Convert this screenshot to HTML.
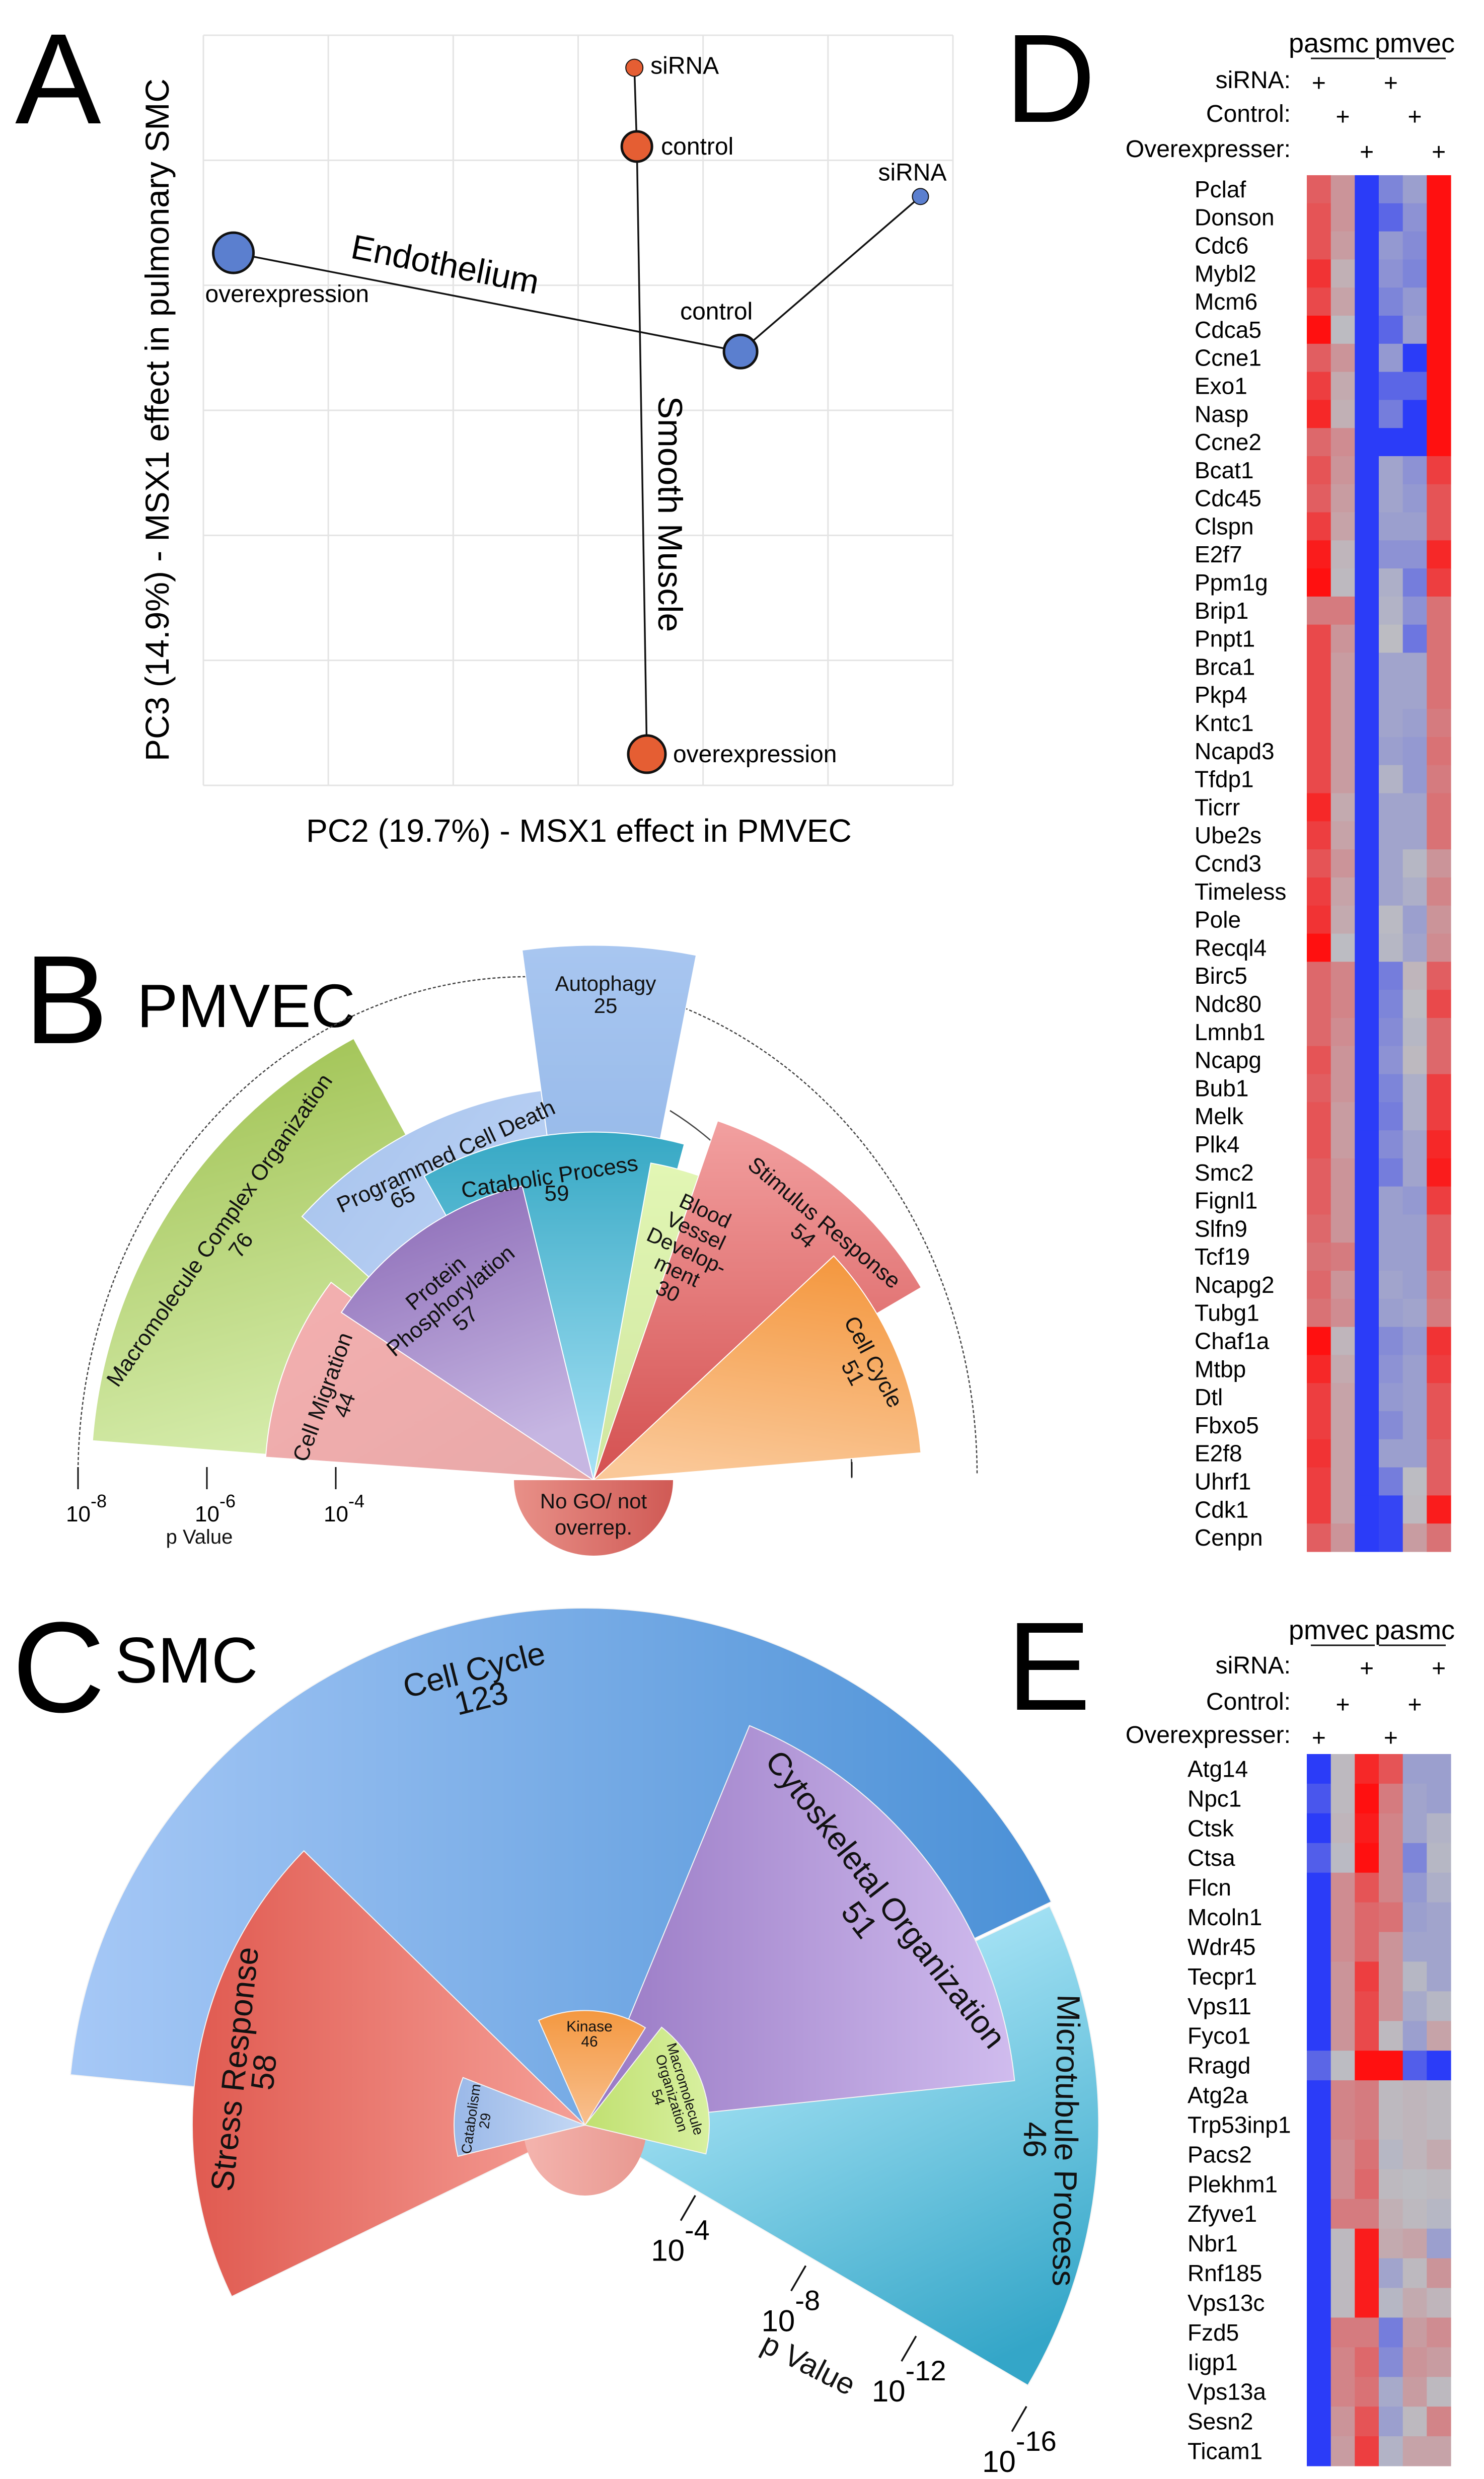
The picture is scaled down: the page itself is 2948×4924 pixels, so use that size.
<!DOCTYPE html>
<html><head><meta charset="utf-8">
<style>
html,body{margin:0;padding:0;background:#fff;}
svg{display:block;font-family:"Liberation Sans",Arial,sans-serif;}
</style></head>
<body>
<svg id="fig" width="2948" height="4924" viewBox="0 0 2948 4924" xmlns="http://www.w3.org/2000/svg">
<defs>
<linearGradient id="gGreen" x1="0" y1="0" x2="0.3" y2="1"><stop offset="0" stop-color="#9cbf4c"/><stop offset="1" stop-color="#d8eeb0"/></linearGradient>
<linearGradient id="gPink" x1="0" y1="0" x2="1" y2="1"><stop offset="0" stop-color="#f4b0b0"/><stop offset="1" stop-color="#e8a8a8"/></linearGradient>
<linearGradient id="gPCD" x1="0" y1="0" x2="1" y2="1"><stop offset="0" stop-color="#a6c2ec"/><stop offset="1" stop-color="#c8dcfa"/></linearGradient>
<linearGradient id="gAuto" x1="0" y1="0" x2="0" y2="1"><stop offset="0" stop-color="#a8c6f0"/><stop offset="1" stop-color="#7ea8e0"/></linearGradient>
<linearGradient id="gCat" x1="0" y1="0" x2="0" y2="1"><stop offset="0" stop-color="#36a8c4"/><stop offset="1" stop-color="#a8e2f6"/></linearGradient>
<linearGradient id="gPurple" x1="0" y1="0" x2="0.3" y2="1"><stop offset="0" stop-color="#8866b4"/><stop offset="1" stop-color="#c6b6e2"/></linearGradient>
<linearGradient id="gBlood" x1="0" y1="0" x2="0" y2="1"><stop offset="0" stop-color="#e2f6b4"/><stop offset="1" stop-color="#cfe6a0"/></linearGradient>
<linearGradient id="gStim" x1="0" y1="0" x2="0" y2="1"><stop offset="0" stop-color="#f2a0a0"/><stop offset="1" stop-color="#d45050"/></linearGradient>
<linearGradient id="gOrange" x1="0.6" y1="0" x2="0.4" y2="1"><stop offset="0" stop-color="#f49840"/><stop offset="1" stop-color="#fac898"/></linearGradient>
<linearGradient id="gNoGO" x1="0" y1="0" x2="1" y2="0"><stop offset="0" stop-color="#e89088"/><stop offset="1" stop-color="#d05a55"/></linearGradient>
<linearGradient id="gCCyc" x1="0" y1="0" x2="1" y2="0"><stop offset="0" stop-color="#a6c8f6"/><stop offset="1" stop-color="#4a90d6"/></linearGradient>
<linearGradient id="gStress" x1="0" y1="0" x2="1" y2="0"><stop offset="0" stop-color="#e05a50"/><stop offset="1" stop-color="#f5a098"/></linearGradient>
<linearGradient id="gCyto" x1="0" y1="0" x2="1" y2="0"><stop offset="0" stop-color="#9878c4"/><stop offset="1" stop-color="#d0bcee"/></linearGradient>
<linearGradient id="gMicro" x1="0.2" y1="0" x2="0.7" y2="1"><stop offset="0.15" stop-color="#b4eafa"/><stop offset="1" stop-color="#34a6c8"/></linearGradient>
<linearGradient id="gKin" x1="0" y1="0" x2="0" y2="1"><stop offset="0" stop-color="#f49840"/><stop offset="1" stop-color="#f8c090"/></linearGradient>
<linearGradient id="gMacro" x1="0" y1="0" x2="1" y2="0"><stop offset="0" stop-color="#c0e070"/><stop offset="1" stop-color="#d8f0a0"/></linearGradient>
<linearGradient id="gCatab" x1="0" y1="0" x2="1" y2="0"><stop offset="0" stop-color="#9ab8e8"/><stop offset="1" stop-color="#c4d8f4"/></linearGradient>
<linearGradient id="gPinkC" x1="0" y1="0" x2="1" y2="0"><stop offset="0" stop-color="#f4b4ae"/><stop offset="1" stop-color="#e89890"/></linearGradient>
</defs>

<text x="30" y="245" font-size="256">A</text>
<text x="48" y="2072" font-size="250">B</text>
<text x="272" y="2040" font-size="122">PMVEC</text>
<text x="24" y="3400" font-size="256">C</text>
<text x="228" y="3342" font-size="128">SMC</text>
<text x="1996" y="242" font-size="250">D</text>
<text x="2000" y="3396" font-size="250">E</text>

<g id="panelA"></g>
<g id="panelB"></g>
<g id="panelC"></g>
<g id="panelD"></g>
<g id="panelE"></g>

<text transform="translate(335,834) rotate(-90)" text-anchor="middle" font-size="66">PC3 (14.9%) - MSX1 effect in pulmonary SMC</text>
<text x="1150" y="1672" text-anchor="middle" font-size="64">PC2 (19.7%) - MSX1 effect in PMVEC</text>
<text transform="translate(880,548) rotate(11)" text-anchor="middle" font-size="68">Endothelium</text>
<text transform="translate(1308,1021) rotate(90)" text-anchor="middle" font-size="68">Smooth Muscle</text>

<g font-size="44" text-anchor="middle" fill="#111">
<text transform="translate(448,2452) rotate(-55)">Macromolecule Complex Organization<tspan x="0" dy="52">76</tspan></text>
<text transform="translate(892,2310) rotate(-25)">Programmed Cell Death</text>
<text transform="translate(806,2392) rotate(-25)">65</text>
<text x="1203" y="1968" font-size="42">Autophagy<tspan x="1203" dy="44">25</tspan></text>
<text transform="translate(1094,2352) rotate(-9)">Catabolic Process</text>
<text x="1106" y="2385">59</text>
<text transform="translate(875,2560) rotate(-40)">Protein<tspan x="0" dy="46">Phosphorylation</tspan><tspan x="0" dy="46">57</tspan></text>
<text transform="translate(1395,2418) rotate(25)" font-size="42">Blood<tspan x="0" dy="44">Vessel</tspan><tspan x="0" dy="44">Develop-</tspan><tspan x="0" dy="44">ment</tspan><tspan x="0" dy="44">30</tspan></text>
<text transform="translate(1628,2440) rotate(40)">Stimulus Response</text>
<text transform="translate(1586,2466) rotate(40)">54</text>
<text transform="translate(1722,2712) rotate(62)">Cell Cycle<tspan x="0" dy="46">51</tspan></text>
<text transform="translate(655,2780) rotate(-70)">Cell Migration<tspan x="0" dy="46">44</tspan></text>
<text x="1179" y="2996" font-size="42">No GO/ not<tspan x="1179" dy="52">overrep.</tspan></text>
<text x="396" y="3066" font-size="40">p Value</text>
</g>

<g text-anchor="middle" fill="#111">
<text transform="translate(947,3338) rotate(-14)" font-size="64">Cell Cycle<tspan x="0" dy="58">123</tspan></text>
<text transform="translate(1742,3786) rotate(52)" font-size="64">Cytoskeletal Organization<tspan x="0" dy="66">51</tspan></text>
<text transform="translate(2096,4251) rotate(91)" font-size="64">Microtubule Process<tspan x="0" dy="62">46</tspan></text>
<text transform="translate(488,4112) rotate(-84)" font-size="64">Stress Response<tspan x="0" dy="58">58</tspan></text>
<text x="1171" y="4035" font-size="30">Kinase<tspan x="1171" dy="30">46</tspan></text>
<text transform="translate(1352,4152) rotate(73)" font-size="28">Macromolecule<tspan x="0" dy="28">Organization</tspan><tspan x="0" dy="28">54</tspan></text>
<text transform="translate(945,4210) rotate(-82)" font-size="28">Catabolism<tspan x="0" dy="28">29</tspan></text>
<text transform="translate(1597,4714) rotate(27)" font-size="60">p Value</text>
</g>
</svg>

<script>
const pcaLabels = ["siRNA","control","overexpression","overexpression","control","siRNA"];
const pcaGroup = ["smc","smc","smc","ec","ec","ec"];
const pcaX = [3.45, 3.47, 3.55, 0.24, 4.30, 5.74];
const pcaY = [5.74, 5.11, 0.25, 4.26, 3.47, 4.71];
const pcaSize = [17, 30, 37, 40, 33, 16];
const pcaGrid = [0,1,2,3,4,5,6];

const bCategories = ["Macromolecule Complex Organization","Cell Migration","Programmed Cell Death","Autophagy","Catabolic Process","Protein Phosphorylation","Blood Vessel Development","Stimulus Response","Cell Cycle"];
const bCounts = [76, 44, 65, 25, 59, 57, 30, 54, 51];
const bNegLogP = [7.8, 5.1, 6.1, 8.3, 5.4, 4.7, 5.0, 5.9, 5.1];
const bCenterAngle = [147, 159.5, 113.5, 88.3, 97, 125, 68.5, 50.7, 23.9];
const bFills = ["gGreen","gPink","gPCD","gAuto","gCat","gPurple","gBlood","gStim","gOrange"];
const bTicks = [8, 6, 4];

const cCategories = ["Cell Cycle","Microtubule Process","Stress Response","Cytoskeletal Organization","Catabolism","Kinase","Macromolecule Organization"];
const cCounts = [123, 46, 58, 51, 29, 46, 54];
const cNegLogP = [15.8, 15.7, 12.0, 13.2, 4.0, 3.5, 3.8];
const cCenterAngle = [100, -2.6, 170.8, 36.75, 176.25, 86, 19.25];
const cFills = ["gCCyc","gMicro","gStress","gCyto","gCatab","gKin","gMacro"];
const cTicks = [4, 8, 12, 16];

const dGenes = ["Pclaf","Donson","Cdc6","Mybl2","Mcm6","Cdca5","Ccne1","Exo1","Nasp","Ccne2","Bcat1","Cdc45","Clspn","E2f7","Ppm1g","Brip1","Pnpt1","Brca1","Pkp4","Kntc1","Ncapd3","Tfdp1","Ticrr","Ube2s","Ccnd3","Timeless","Pole","Recql4","Birc5","Ndc80","Lmnb1","Ncapg","Bub1","Melk","Plk4","Smc2","Fignl1","Slfn9","Tcf19","Ncapg2","Tubg1","Chaf1a","Mtbp","Dtl","Fbxo5","E2f8","Uhrf1","Cdk1","Cenpn"];
const dValues = [
[.65,.35,-1,-.55,-.35,1],[.7,.35,-1,-.75,-.45,1],[.7,.3,-1,-.4,-.5,1],[.85,.15,-1,-.45,-.55,1],[.75,.25,-1,-.55,-.4,1],
[1,.02,-1,-.75,-.35,1],[.65,.35,-1,-.4,-1,1],[.8,.2,-1,-.75,-.75,1],[.9,.15,-1,-.6,-1,1],[.6,.4,-1,-1,-1,1],
[.7,.35,-1,-.3,-.45,.8],[.65,.3,-1,-.3,-.4,.7],[.8,.25,-1,-.35,-.35,.7],[.95,.1,-1,-.45,-.45,.9],[1,.05,-1,-.2,-.6,.8],
[.5,.5,-1,-.15,-.45,.55],[.75,.35,-1,0,-.65,.55],[.75,.3,-1,-.3,-.3,.55],[.75,.3,-1,-.3,-.3,.55],[.75,.3,-1,-.3,-.35,.5],
[.75,.3,-1,-.35,-.4,.55],[.75,.3,-1,-.15,-.4,.5],[.9,.2,-1,-.3,-.3,.55],[.8,.25,-1,-.3,-.3,.55],[.7,.35,-1,-.3,-.1,.35],
[.8,.25,-1,-.3,-.2,.45],[.85,.2,-1,-.05,-.35,.35],[1,0,-1,-.1,-.3,.4],[.6,.45,-1,-.6,.1,.65],[.6,.45,-1,-.55,0,.75],
[.6,.4,-1,-.5,-.1,.6],[.7,.35,-1,-.45,.05,.6],[.65,.35,-1,-.55,-.2,.8],[.7,.3,-1,-.6,-.2,.8],[.7,.3,-1,-.5,-.3,.9],
[.65,.35,-1,-.6,-.3,.95],[.65,.35,-1,-.35,-.4,.8],[.6,.35,-1,-.35,-.35,.65],[.55,.5,-1,-.35,-.35,.65],[.6,.35,-1,-.3,-.35,.55],
[.55,.4,-1,-.35,-.3,.5],[1,.1,-1,-.5,-.4,.85],[.9,.2,-1,-.45,-.35,.8],[.8,.25,-1,-.4,-.35,.7],[.8,.25,-1,-.5,-.35,.7],
[.85,.25,-1,-.35,-.35,.65],[.8,.25,-1,-.6,0,.65],[.8,.25,-1,-.95,.05,.95],[.65,.35,-1,-.95,.3,.55]];
const dGroups = ["pasmc","pmvec"];
const dSiRNA = [1,0,0,1,0,0];
const dControl = [0,1,0,0,1,0];
const dOver = [0,0,1,0,0,1];

const eGenes = ["Atg14","Npc1","Ctsk","Ctsa","Flcn","Mcoln1","Wdr45","Tecpr1","Vps11","Fyco1","Rragd","Atg2a","Trp53inp1","Pacs2","Plekhm1","Zfyve1","Nbr1","Rnf185","Vps13c","Fzd5","Iigp1","Vps13a","Sesn2","Ticam1"];
const eValues = [
[-1,.05,.9,.7,-.35,-.35],[-.85,.05,1,.5,-.3,-.35],[-1,.1,.95,.45,-.3,-.15],[-.8,-.05,1,.45,-.55,-.1],[-1,.4,.7,.45,-.4,-.2],
[-1,.4,.6,.55,-.35,-.3],[-1,.4,.6,.35,-.3,-.3],[-1,.35,.8,.35,-.1,-.3],[-1,.35,.75,.35,-.25,-.1],[-1,.35,.75,.05,-.35,.25],
[-.75,0,1,1,-.8,-1],[-1,.45,.5,.05,.1,.05],[-1,.45,.5,.05,.1,.05],[-1,.4,.55,-.1,.1,.2],[-1,.4,.6,.05,0,.05],
[-1,.5,.5,.15,.05,-.1],[-1,.05,.95,.2,.25,-.35],[-1,.05,.95,-.3,.05,.35],[-1,.05,.95,-.1,.2,.1],[-1,.5,.5,-.6,.3,.4],
[-1,.45,.6,-.5,.35,.3],[-1,.45,.55,-.25,.3,.05],[-1,.35,.7,-.35,.05,.45],[-1,.3,.8,-.15,.25,.25]];
const eGroups = ["pmvec","pasmc"];
const eSiRNA = [0,0,1,0,0,1];
const eControl = [0,1,0,0,1,0];
const eOver = [1,0,0,1,0,0];

const NS = "http://www.w3.org/2000/svg";
function mk(parent, tag, attrs, text){
  const el = document.createElementNS(NS, tag);
  for (const k in attrs) el.setAttribute(k, attrs[k]);
  if (text !== undefined) el.textContent = text;
  parent.appendChild(el);
  return el;
}

(function(){
  const g = document.getElementById("panelA");
  const x0=404, x1=1893, y0=1560, y1=70;
  const xs = v => x0 + (x1-x0)*v/6;
  const ys = v => y0 - (y0-y1)*v/6;
  pcaGrid.forEach(v=>{
    let l = mk(g,"line",{x1:xs(v),x2:xs(v),y1:y1,y2:y0,stroke:"#e4e4e4","stroke-width":3});
    
    
    let h = mk(g,"line",{x1:x0,x2:x1,y1:ys(v),y2:ys(v),stroke:"#e4e4e4","stroke-width":3});
    
    
  });
  [[1,0],[1,2],[4,5],[4,3]].forEach(p=>{
    let l = mk(g,"line",{x1:xs(pcaX[p[0]]),y1:ys(pcaY[p[0]]),x2:xs(pcaX[p[1]]),y2:ys(pcaY[p[1]]),stroke:"#111","stroke-width":3.5});
    
    
  });
  const lblOff = [[32,12,"start"],[48,16,"start"],[52,16,"start"],[-56,98,"start"],[-120,-64,"start"],[-84,-32,"start"]];
  pcaX.forEach((v,i)=>{
    const cx=xs(v), cy=ys(pcaY[i]);
    let c = mk(g,"circle",{cx:cx,cy:cy,r:pcaSize[i],fill:pcaGroup[i]==="smc"?"#e55e33":"#5b7fcf",stroke:"#111","stroke-width":pcaSize[i]>25?5:2});
    
    
    let t = mk(g,"text",{x:cx+lblOff[i][0],y:cy+lblOff[i][1],"font-size":48,"text-anchor":lblOff[i][2]},pcaLabels[i]);
    
    
  });
})();

function wedgePath(cx,cy,r,a0,a1){
  const rad=Math.PI/180;
  const p0=[cx+r*Math.cos(a0*rad), cy-r*Math.sin(a0*rad)];
  const p1=[cx+r*Math.cos(a1*rad), cy-r*Math.sin(a1*rad)];
  const large = (a1-a0)>180?1:0;
  return "M"+cx+" "+cy+" L"+p0[0].toFixed(1)+" "+p0[1].toFixed(1)+" A"+r+" "+r+" 0 "+large+" 0 "+p1[0].toFixed(1)+" "+p1[1].toFixed(1)+" Z";
}

(function(){
  const g = document.getElementById("panelB");
  const ax=1179, ay=2940, perDecade=128, degPerGene=0.75;
  const rB = d => d*perDecade;
  let arc = mk(g,"path",{d:"M155 2930 A893 990 0 0 1 1941 2930",fill:"none",stroke:"#444","stroke-width":2.5,"stroke-dasharray":"6 4"});
  
  
  let arc2 = mk(g,"path",{d:"M1331 2206 A644 811 0 0 1 1692 2936",fill:"none",stroke:"#444","stroke-width":2.5});
  
  
  bCategories.forEach((c,i)=>{
    const w = bCounts[i]*degPerGene;
    let p = mk(g,"path",{d:wedgePath(ax,ay,rB(bNegLogP[i]),bCenterAngle[i]-w/2,bCenterAngle[i]+w/2),fill:"url(#"+bFills[i]+")",stroke:"#fff","stroke-width":2});
    
    
  });
  let ng = mk(g,"path",{d:"M"+(ax-158)+" "+ay+" A158 150 0 0 0 "+(ax+158)+" "+ay+" Z",fill:"url(#gNoGO)"});
  
  
  bTicks.forEach(d=>{
    const x = ax - rB(d);
    let t = mk(g,"line",{x1:x,x2:x,y1:2914,y2:2958,stroke:"#111","stroke-width":3});
    
    
    let lb = mk(g,"text",{x:x-24,y:3022,"font-size":44});
    
    
    lb.appendChild(document.createTextNode("10"));
    let sp = mk(lb,"tspan",{dy:-28,"font-size":36},"-"+d);
    
    
  });
  let rt = mk(g,"line",{x1:1692,x2:1692,y1:2904,y2:2934,stroke:"#111","stroke-width":3});
  
  
})();

(function(){
  const g = document.getElementById("panelC");
  const ax=1162, ay=4221, perDecade=65, degPerGene=1.21, axisAngle=-32.5;
  const rC = d => d*perDecade;
  cCategories.forEach((c,i)=>{
    if(i===4){
      let pk = mk(g,"path",{d:"M"+(ax-123)+" "+ay+" A123 140 0 0 0 "+(ax+123)+" "+ay+" Z",fill:"url(#gPinkC)"});
      
      
    }
    const w = cCounts[i]*degPerGene;
    let p = mk(g,"path",{d:wedgePath(ax,ay,rC(cNegLogP[i]),cCenterAngle[i]-w/2,cCenterAngle[i]+w/2),fill:"url(#"+cFills[i]+")",stroke:"#f4f4f4","stroke-width":2});
    
    
  });
  const rad=Math.PI/180, ux=Math.cos(axisAngle*rad), uy=-Math.sin(axisAngle*rad);
  cTicks.forEach(d=>{
    const x=ax+rC(d)*ux, y=ay+rC(d)*uy;
    let t = mk(g,"line",{x1:x,y1:y,x2:x-29,y2:y+50,stroke:"#111","stroke-width":3.5});
    
    
    let lb = mk(g,"text",{x:x-88,y:y+130,"font-size":60});
    
    
    lb.appendChild(document.createTextNode("10"));
    let sp = mk(lb,"tspan",{dy:-42,"font-size":56},"-"+d);
    
    
  });
})();

function color(v){
  const g=[188,188,194], b=[43,60,248], r=[255,16,16];
  const t=Math.pow(Math.min(1,Math.abs(v)),1.4), e=v<0?b:r;
  return "rgb("+g.map((c,k)=>Math.round(c+(e[k]-c)*t)).join(",")+")";
}
function heatmap(gid, genes, values, groups, si, ctl, ov, top, bottom, labelX, headY){
  const g=document.getElementById(gid);
  const left=2596, right=2882, nc=6, cw=(right-left)/nc, rh=(bottom-top)/genes.length;
  const cx = j => left + j*cw;
  const ry = i => top + i*rh;
  genes.forEach((gn,i)=>{
    values[i].forEach((v,j)=>{
      let r = mk(g,"rect",{x:cx(j).toFixed(1),y:ry(i).toFixed(1),width:(cw+0.6).toFixed(1),height:(rh+0.6).toFixed(1),fill:color(v)});
      
      
    });
    let t = mk(g,"text",{x:labelX,y:(ry(i)+rh*0.5+16).toFixed(1),"font-size":46},gn);
    
    
  });
  groups.forEach((gr,k)=>{
    const gx = k===0 ? cx(0)-36 : cx(3)-8;
    let t = mk(g,"text",{x:gx,y:headY[0],"font-size":54},gr);
    
    
    let u = mk(g,"line",{x1:k===0?cx(0)+8:cx(3),x2:k===0?cx(3)-8:cx(6)-10,y1:headY[0]+12,y2:headY[0]+12,stroke:"#111","stroke-width":3});
    
    
  });
  const rows=[["siRNA:",si],["Control:",ctl],["Overexpresser:",ov]];
  rows.forEach((rw,k)=>{
    const y=headY[k+1];
    let t = mk(g,"text",{x:cx(0)-32,y:y,"font-size":48,"text-anchor":"end"},rw[0]);
    
    
    rw[1].forEach((f,j)=>{
      if(!f) return;
      let p = mk(g,"text",{x:cx(j)+cw/2,y:y+6,"font-size":48,"text-anchor":"middle"},"+");
      
      
    });
  });
}
heatmap("panelD", dGenes, dValues, dGroups, dSiRNA, dControl, dOver, 348, 3082, 2373, [104,175,242,312]);
heatmap("panelE", eGenes, eValues, eGroups, eSiRNA, eControl, eOver, 3484, 4898, 2359, [3256,3324,3396,3462]);
</script>
</body></html>
